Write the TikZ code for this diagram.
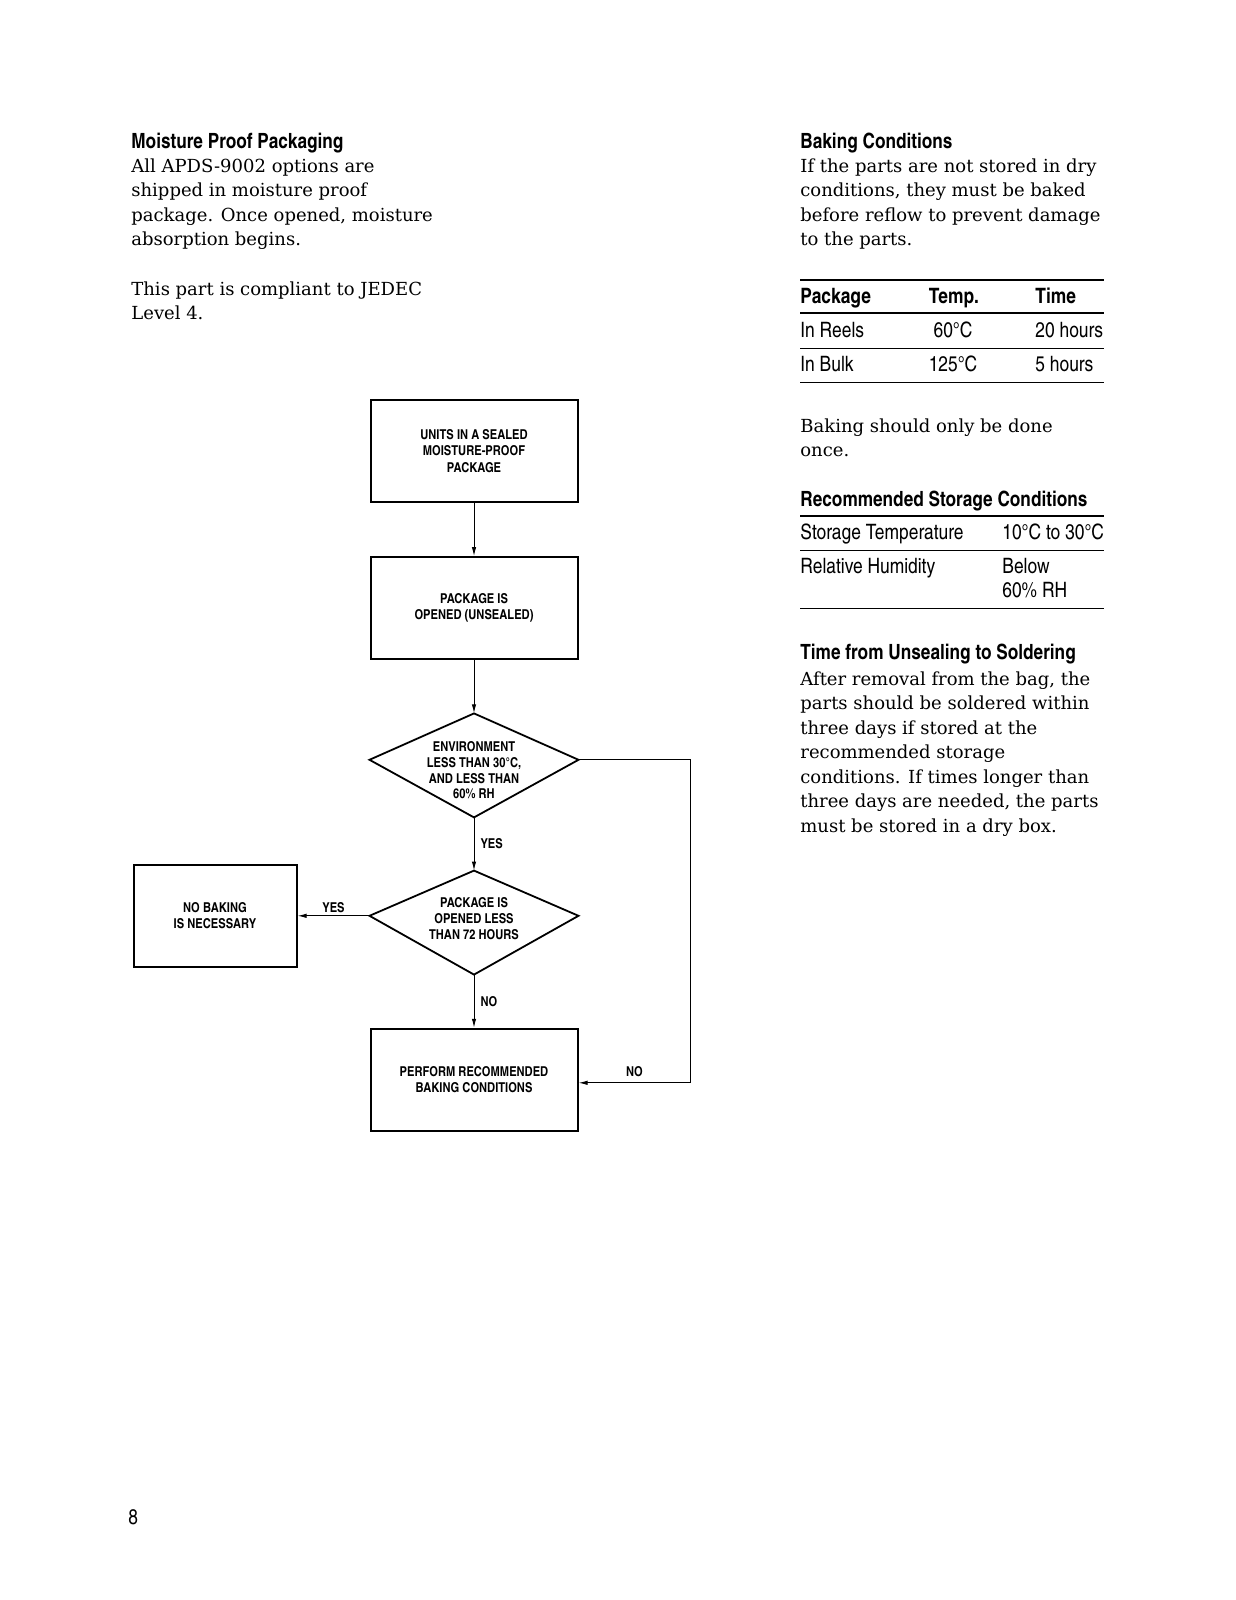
\documentclass[tikz,border=0pt]{standalone}
\usepackage{fontspec}
\setmainfont{DejaVu Serif}
\newfontfamily\cond{texgyreheroscn-regular.otf}[BoldFont=texgyreheroscn-bold.otf]
\usetikzlibrary{shapes.geometric, arrows.meta, positioning}

% kite outline over an (invisible) decision node, side corners raised by #2
\newcommand\drawkite[2]{\draw[line width=0.9pt, line join=miter] (#1.north) -- ([yshift=#2]#1.east) -- (#1.south) -- ([yshift=#2]#1.west) -- cycle;}

\begin{document}
\begin{tikzpicture}[
    x=0.5pt, y=-0.5pt,
    node distance=26.6pt and 36pt,
    heading/.style={anchor=north west, inner sep=0pt, font=\cond\bfseries\fontsize{10.5}{12}\selectfont},
    body/.style={anchor=north west, inner sep=0pt, align=left, font=\fontsize{9}{12.25}\selectfont},
    cell/.style={anchor=mid west, inner sep=0pt, font=\cond\fontsize{10.6}{12}\selectfont},
    head/.style={cell, font=\cond\bfseries\fontsize{10.6}{12}\selectfont},
    box/.style={rectangle, draw, line width=1pt, minimum width=103.5pt, minimum height=51pt, align=center, font=\cond\bfseries\fontsize{6.8}{8.1}\selectfont},
    decision/.style={rectangle, minimum width=104.5pt, minimum height=52pt, inner sep=0pt, outer sep=0pt},
    inside/.style={align=center, font=\cond\bfseries\fontsize{6.8}{7.9}\selectfont},
    flow/.style={draw, line width=0.5pt, -{Latex[length=4.5pt, width=2.2pt]}},
    tag/.style={font=\cond\bfseries\fontsize{6.8}{8}\selectfont, inner sep=3pt},
    rule/.style={line width=0.5pt},
    thickrule/.style={line width=1.1pt}
]
\useasboundingbox (0,0) rectangle (1236,1600);

% Left column
\node[heading] (moistHead) at (131,133) {Moisture Proof Packaging};
\node[body] (moistText) at (131,158) {All APDS-9002 options are\\shipped in moisture proof\\package. Once opened, moisture\\absorption begins.};
\node[body] (jedec) at (131,281) {This part is compliant to JEDEC\\Level 4.};

% Right column
\node[heading] (bakeHead) at (800,133) {Baking Conditions};
\node[body] (bakeText) at (800,158) {If the parts are not stored in dry\\conditions, they must be baked\\before reflow to prevent damage\\to the parts.};

% Baking table
\draw[thickrule] (800,280) -- (1104,280);
\node[head] (hPkg) at (800,298) {Package};
\node[head, anchor=mid] (hTemp) at (954,298) {Temp.};
\node[head] (hTime) at (1035,298) {Time};
\draw[line width=0.9pt] (800,313) -- (1104,313);
\node[cell] (reels) at (800,332) {In Reels};
\node[cell, anchor=mid] (reelsT) at (953,332) {60°C};
\node[cell] (reelsH) at (1035,332) {20 hours};
\draw[rule] (800,348) -- (1104,348);
\node[cell] (bulk) at (800,366) {In Bulk};
\node[cell, anchor=mid] (bulkT) at (953,366) {125°C};
\node[cell] (bulkH) at (1035,366) {5 hours};
\draw[rule] (800,382) -- (1104,382);

\node[body] (once) at (800,418) {Baking should only be done\\once.};

% Storage table
\node[heading] (storeHead) at (800,491) {Recommended Storage Conditions};
\draw[thickrule] (800,516) -- (1104,516);
\node[cell] (stTemp) at (800,534) {Storage Temperature};
\node[cell] (stTempV) at (1002,534) {10°C to 30°C};
\draw[rule] (800,550) -- (1104,550);
\node[cell] (stHum) at (800,568) {Relative Humidity};
\node[cell] (stHumV) at (1002,568) {Below};
\node[cell] (stHumV2) at (1002,592) {60\% RH};
\draw[rule] (800,608) -- (1104,608);

\node[heading] (timeHead) at (800,644) {Time from Unsealing to Soldering};
\node[body] (timeText) at (800,671) {After removal from the bag, the\\parts should be soldered within\\three days if stored at the\\recommended storage\\conditions. If times longer than\\three days are needed, the parts\\must be stored in a dry box.};

% Flowchart
\node[box] (sealed) at (474,451) {UNITS IN A SEALED\\MOISTURE-PROOF\\PACKAGE};
\node[box, below=of sealed] (opened) {PACKAGE IS\\OPENED (UNSEALED)};
\node[decision, below=of opened, label={[inside, yshift=-2.5pt]center:ENVIRONMENT\\LESS THAN 30°C,\\AND LESS THAN\\60\% RH}] (env) {};
\node[decision, below=of env, label={[inside, yshift=2pt]center:PACKAGE IS\\OPENED LESS\\THAN 72 HOURS}] (hours) {};
\node[box, below=of hours] (bake) {PERFORM RECOMMENDED\\BAKING CONDITIONS};
\node[box, left=of hours, yshift=3.4pt, minimum width=81.5pt] (nobake) {NO BAKING\\IS NECESSARY};
\drawkite{env}{2.8pt}
\drawkite{hours}{3.4pt}

\draw[flow] (sealed) -- (opened);
\draw[flow] (opened) -- (env);
\draw[flow] (env) -- node[tag, right] {YES} (hours);
\draw[flow] ([yshift=3.4pt]hours.west) -- node[tag, above, inner sep=1.5pt] {YES} (nobake);
\draw[flow] (hours) -- node[tag, right] {NO} (bake);
\draw[flow] ([yshift=2.8pt]env.east) -| ([xshift=56pt, yshift=-1.5pt]bake.east) -- node[tag, above] {NO} ([yshift=-1.5pt]bake.east);

% Page number
\node[cell] (pageNo) at (128,1519) {8};
\end{tikzpicture}
\end{document}
